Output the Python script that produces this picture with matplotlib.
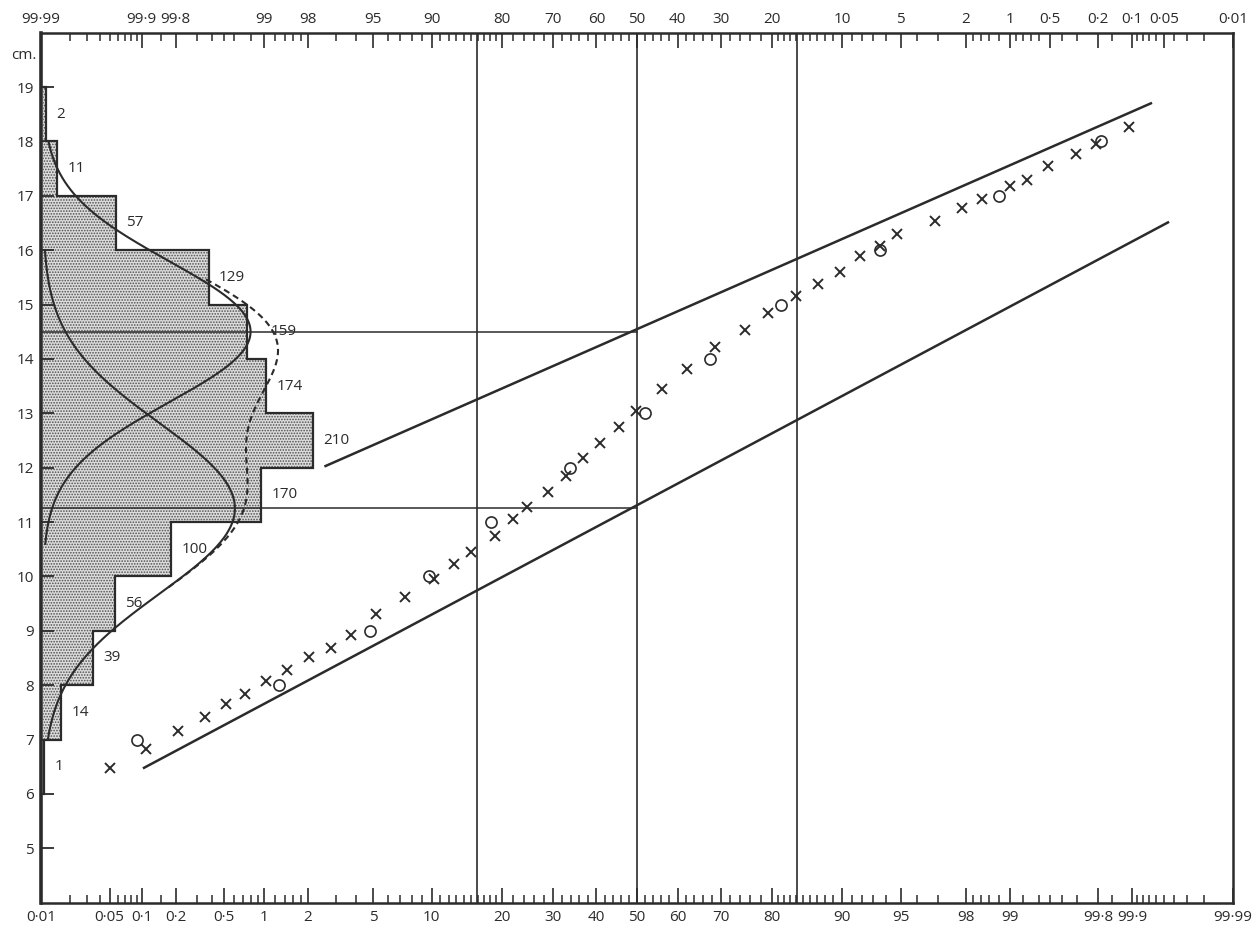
import numpy as np
import matplotlib.pyplot as plt
from statistics import NormalDist

plt.rcParams['font.family'] = ['Open Sans', 'DejaVu Sans']
plt.rcParams['font.size'] = 11
plt.rcParams['hatch.linewidth'] = 0.8
plt.rcParams['hatch.color'] = '#4f4f4f'

ink = '#2b2b2b'

# histogram of lengths (cm), 1 cm classes
bin_edges = [6, 7, 8, 9, 10, 11, 12, 13, 14, 15, 16, 17, 18, 19]
counts = [1, 14, 39, 56, 100, 170, 210, 174, 159, 129, 57, 11, 2]

# fitted normal components: mean, sd, peak height (count per cm), drawn range
comp_mean = [11.25, 14.5]
comp_sd = [1.57, 1.30]
comp_peak = [149.5, 161.7]
comp_range = [(7.0, 16.0), (10.6, 18.0)]
sum_range = (9.8, 15.5)

# cumulative percentages, fine steps (x) and class boundaries (o)
fine_pct = [0.05, 0.11, 0.21, 0.35, 0.52, 0.72, 1.03, 1.44, 2.04, 2.80, 3.70,
            5.16, 7.36, 10.26, 12.67, 15.06, 18.76, 21.94, 24.55, 28.99, 32.96,
            36.9, 41.0, 45.6, 49.8, 56.3, 62.3, 68.8, 74.9, 79.3, 83.96, 87.1,
            89.8, 91.8, 93.5, 94.8, 96.86, 97.89, 98.43, 99.01, 99.26, 99.48,
            99.69, 99.79, 99.894]
fine_cm = [6.47, 6.82, 7.15, 7.41, 7.65, 7.84, 8.08, 8.28, 8.52, 8.69, 8.93,
           9.30, 9.63, 9.96, 10.22, 10.44, 10.75, 11.06, 11.28, 11.56, 11.84,
           12.18, 12.45, 12.74, 13.05, 13.44, 13.81, 14.21, 14.53, 14.84, 15.16,
           15.38, 15.60, 15.89, 16.08, 16.30, 16.53, 16.77, 16.94, 17.18, 17.29,
           17.54, 17.77, 17.95, 18.26]
class_pct = [0.09, 1.28, 4.79, 9.71, 18.17, 33.7, 52.0, 67.5, 81.6, 93.5, 98.80, 99.81]
class_cm = [7, 8, 9, 10, 11, 12, 13, 14, 15, 16, 17, 18]

# straight lines for the two components on probability paper
lower_pct = [0.105, 99.954]
lower_cm = [6.48, 16.51]
upper_pct = [2.6, 99.933]
upper_cm = [12.03, 18.70]

sd_lines_pct = [15.87, 50, 84.13]

bottom_labels = [0.01, 0.05, 0.1, 0.2, 0.5, 1, 2, 5, 10, 20, 30, 40, 50, 60, 70,
                 80, 90, 95, 98, 99, 99.8, 99.9, 99.99]
top_labels = [99.99, 99.9, 99.8, 99, 98, 95, 90, 80, 70, 60, 50, 40, 30, 20, 10,
              5, 2, 1, 0.5, 0.2, 0.1, 0.05, 0.01]
minor_ticks = [0.02, 0.03, 0.04, 0.06, 0.07, 0.08, 0.09, 0.15, 0.3, 0.4, 0.6, 0.7,
               0.8, 0.9, 1.2, 1.4, 1.6, 1.8, 3, 4, 6, 7, 8, 9, 11, 12, 13, 14, 15,
               16, 17, 18, 19, 22, 24, 26, 28, 32, 34, 36, 38, 42, 44, 46, 48, 52,
               54, 56, 58, 62, 64, 66, 68, 72, 74, 76, 78, 81, 82, 83, 84, 85, 86,
               87, 88, 89, 91, 92, 93, 94, 96, 97, 98.2, 98.4, 98.6, 98.8, 99.2,
               99.4, 99.5, 99.6, 99.7, 99.85, 99.91, 99.92, 99.93, 99.94, 99.95,
               99.96, 99.97, 99.98]

nd = NormalDist()
fwd = np.vectorize(lambda p: nd.inv_cdf(min(max(p / 100.0, 1e-9), 1 - 1e-9)), otypes=[float])
inv = np.vectorize(lambda z: nd.cdf(z) * 100.0, otypes=[float])


def lab(v):
    return f"{v:g}".replace('.', '·')


fig = plt.figure(figsize=(12.56, 9.30), dpi=100)
rect = [0.0326, 0.0294, 0.949, 0.9355]

# histogram and curves on a linear count axis
ax_h = fig.add_axes(rect)
ax_h.set_xlim(-1.56, 926.8)
ax_h.set_ylim(4, 20)
ax_h.axis('off')
ax_h.stairs(counts, bin_edges, orientation='horizontal', baseline=0, fill=True,
            facecolor='#dcdcdc', hatch='......', linewidth=0, zorder=1)
ax_h.stairs(counts, bin_edges, orientation='horizontal', baseline=0, fill=False,
            color=ink, linewidth=1.6, zorder=3)
for m, s, pk, (lo, hi) in zip(comp_mean, comp_sd, comp_peak, comp_range):
    yy = np.linspace(lo, hi, 200)
    ax_h.plot(pk * np.exp(-0.5 * ((yy - m) / s) ** 2), yy, color=ink, lw=1.5, zorder=4)
yy = np.linspace(*sum_range, 200)
tot = sum(pk * np.exp(-0.5 * ((yy - m) / s) ** 2)
          for m, s, pk in zip(comp_mean, comp_sd, comp_peak))
ax_h.plot(tot, yy, color=ink, lw=1.5, ls=(0, (3, 2)), zorder=4)
for lo, c in zip(bin_edges[:-1], counts):
    dx = 18 if c == 159 else 8
    ax_h.text(c + dx, lo + 0.5, str(c), ha='left', va='center', color=ink, fontsize=11)
ax_h.text(-0.004, 19.58, 'cm.', ha='right', va='center', color=ink,
          transform=ax_h.get_yaxis_transform(), fontsize=11)

# probability paper
ax = fig.add_axes(rect)
ax.patch.set_visible(False)
ax.set_xscale('function', functions=(fwd, inv))
ax.set_xlim(0.01, 99.99)
ax.set_ylim(4, 20)

for p in sd_lines_pct:
    ax.axvline(p, color=ink, lw=1.2)
ax.plot([0.01, 50], [14.5, 14.5], color=ink, lw=1.1)
ax.plot([0.01, 50], [11.25, 11.25], color=ink, lw=1.1)
ax.plot(lower_pct, lower_cm, color=ink, lw=1.8)
ax.plot(upper_pct, upper_cm, color=ink, lw=1.8)
ax.plot(fine_pct, fine_cm, 'x', ms=6.5, mew=1.4, color=ink, ls='none')
ax.plot(class_pct, class_cm, 'o', ms=8, mew=1.2, mfc='none', mec=ink, ls='none')

ax.set_xticks(bottom_labels)
ax.set_xticklabels([lab(v) for v in bottom_labels])
ax.set_xticks(minor_ticks, minor=True)
ax.tick_params(axis='x', which='major', direction='in', length=11, width=1.2,
               colors=ink, pad=5, labelsize=11)
ax.tick_params(axis='x', which='minor', direction='in', length=6, width=1.1, color=ink)
ax.set_yticks(range(5, 20))
ax.tick_params(axis='y', which='major', direction='in', length=9, width=1.3,
               colors=ink, pad=5, labelsize=11)
for sp in ax.spines.values():
    sp.set_linewidth(1.8)
    sp.set_color(ink)
ax.spines['left'].set_linewidth(2.6)

ax_top = ax.twiny()
ax_top.set_xscale('function', functions=(fwd, inv))
ax_top.set_xlim(99.99, 0.01)
ax_top.set_xticks(top_labels)
ax_top.set_xticklabels([lab(v) for v in top_labels])
ax_top.set_xticks(minor_ticks, minor=True)
ax_top.tick_params(axis='x', which='major', direction='in', length=11, width=1.2,
                   colors=ink, pad=4, labelsize=11)
ax_top.tick_params(axis='x', which='minor', direction='in', length=6, width=1.1, color=ink)
for sp in ax_top.spines.values():
    sp.set_visible(False)

fig.savefig('out.png', dpi=100)
